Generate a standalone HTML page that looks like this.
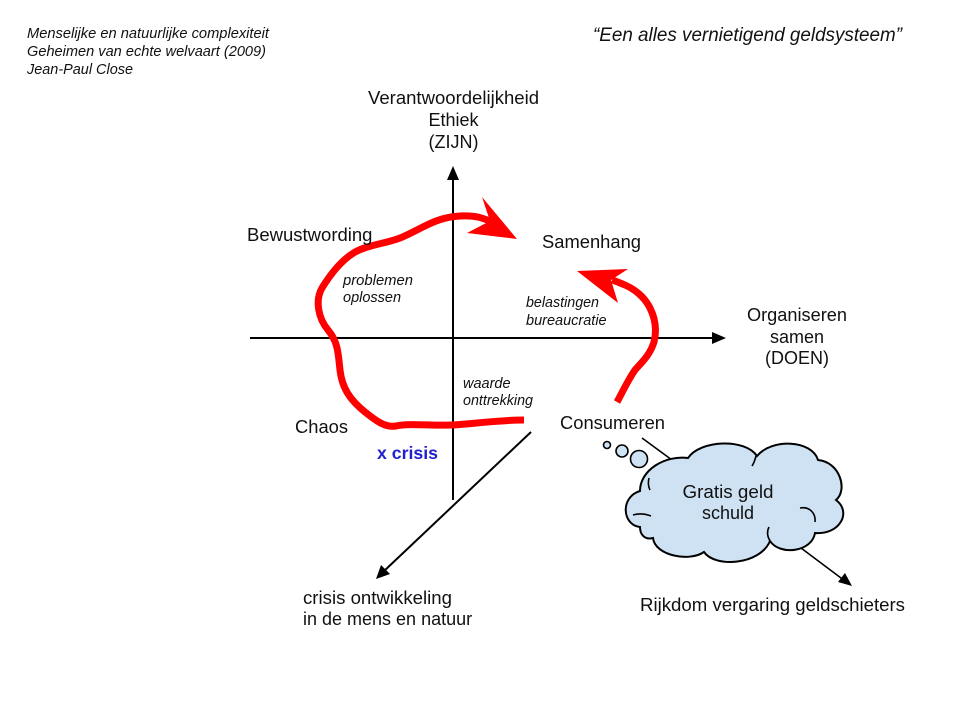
<!DOCTYPE html>
<html>
<head>
<meta charset="utf-8">
<style>
  html,body{margin:0;padding:0;background:#fff;}
  body{width:960px;height:720px;overflow:hidden;}
  svg{display:block;}
  text{font-family:"Liberation Sans",Arial,sans-serif;fill:#111;}
  .it{font-style:italic;}
</style>
</head>
<body>
<svg width="960" height="720" viewBox="0 0 960 720" xmlns="http://www.w3.org/2000/svg">
  <rect width="960" height="720" fill="#fff"/>

  <!-- header texts -->
  <text class="it" x="27" y="38" font-size="14.5" textLength="242" lengthAdjust="spacingAndGlyphs">Menselijke en natuurlijke complexiteit</text>
  <text class="it" x="27" y="56" font-size="14.5" textLength="239" lengthAdjust="spacingAndGlyphs">Geheimen van echte welvaart (2009)</text>
  <text class="it" x="27" y="74" font-size="14.5" textLength="106" lengthAdjust="spacingAndGlyphs">Jean-Paul Close</text>
  <text class="it" x="593" y="41" font-size="19" textLength="309" lengthAdjust="spacingAndGlyphs">“Een alles vernietigend geldsysteem”</text>

  <!-- axes -->
  <g stroke="#000" stroke-width="2" fill="none">
    <line x1="453" y1="500" x2="453" y2="176"/>
    <line x1="250" y1="338" x2="716" y2="338"/>
    <line x1="531" y1="432" x2="383" y2="572"/>
  </g>
  <polygon points="453,166 447,180 459,180" fill="#000"/>
  <polygon points="726,338 712,332 712,344" fill="#000"/>
  <polygon points="376,579 381,565 390,574" fill="#000"/>

  <!-- red loop -->
  <path d="M524,420 C500,420 470,424 453,425 C430,426 410,423 396,426 C385,428 375,420 365,412 C350,400 342,388 340,370 C338,352 338,342 328,330 C318,318 315,300 322,288 C330,275 340,262 352,254 C365,245 385,244 400,238 C420,230 435,217 460,216 C475,215 483,218 492,222"
        fill="none" stroke="#ff0000" stroke-width="7" stroke-linecap="butt" stroke-linejoin="round"/>
  <polygon points="482,197 517,239 467,233 490,221" fill="#ff0000"/>

  <path d="M617,402 C622,393 628,380 635,370 C642,362 650,355 654,342 C657,330 655,318 650,308 C645,298 636,290 625,285 C620,283 616,281 612,280"
        fill="none" stroke="#ff0000" stroke-width="7" stroke-linecap="butt" stroke-linejoin="round"/>
  <polygon points="577,271 628,269 611,280 618,303" fill="#ff0000"/>

  <!-- axis labels -->
  <text x="453.5" y="104" font-size="18" text-anchor="middle" textLength="171" lengthAdjust="spacingAndGlyphs">Verantwoordelijkheid</text>
  <text x="453.5" y="126" font-size="18" text-anchor="middle">Ethiek</text>
  <text x="453.5" y="148" font-size="18" text-anchor="middle">(ZIJN)</text>

  <text x="247" y="241" font-size="18.5">Bewustwording</text>
  <text x="542" y="248" font-size="18" textLength="99" lengthAdjust="spacingAndGlyphs">Samenhang</text>

  <text x="797" y="321" font-size="18" text-anchor="middle" textLength="100" lengthAdjust="spacingAndGlyphs">Organiseren</text>
  <text x="797" y="343" font-size="18" text-anchor="middle">samen</text>
  <text x="797" y="364" font-size="18" text-anchor="middle">(DOEN)</text>

  <text class="it" x="343" y="285" font-size="14.5" textLength="70" lengthAdjust="spacingAndGlyphs">problemen</text>
  <text class="it" x="343" y="302" font-size="14.5">oplossen</text>

  <text class="it" x="526" y="307" font-size="14.5" textLength="73" lengthAdjust="spacingAndGlyphs">belastingen</text>
  <text class="it" x="526" y="325" font-size="14.5">bureaucratie</text>

  <text class="it" x="463" y="388" font-size="14.5">waarde</text>
  <text class="it" x="463" y="405" font-size="14.5" textLength="70" lengthAdjust="spacingAndGlyphs">onttrekking</text>

  <text x="295" y="433" font-size="18" textLength="53" lengthAdjust="spacingAndGlyphs">Chaos</text>
  <text x="377" y="459" font-size="17.5" font-weight="bold" style="fill:#2020cc" textLength="61" lengthAdjust="spacingAndGlyphs">x crisis</text>
  <text x="560" y="429" font-size="18" textLength="105" lengthAdjust="spacingAndGlyphs">Consumeren</text>

  <text x="303" y="604" font-size="18" textLength="149" lengthAdjust="spacingAndGlyphs">crisis ontwikkeling</text>
  <text x="303" y="625" font-size="18">in de mens en natuur</text>

  <!-- connector from Consumeren to cloud -->
  <line x1="642" y1="438" x2="672" y2="460" stroke="#000" stroke-width="1.6"/>

  <!-- thought bubbles -->
  <g fill="#cfe2f3" stroke="#000" stroke-width="1.6">
    <circle cx="607" cy="445" r="3.5"/>
    <circle cx="622" cy="451" r="6"/>
    <circle cx="639" cy="459" r="8.5"/>
  </g>

  <!-- arrow from cloud -->
  <line x1="797" y1="545" x2="845" y2="581" stroke="#000" stroke-width="1.6"/>
  <polygon points="852,586 838,582 845,573" fill="#000"/>

  <!-- cloud -->
  <path d="M640,527 C622,525 620,497 640,491 C640,470 665,455 688,458 C700,440 745,438 757,456 C772,438 812,440 818,460 C840,462 848,490 836,500 C852,512 840,535 815,533 C812,552 780,556 770,541 C760,565 715,568 704,552 C690,562 655,556 653,538 C645,540 640,535 640,527 Z"
        fill="#cfe2f3" stroke="#000" stroke-width="2"/>
  <g fill="none" stroke="#000" stroke-width="1.6">
    <path d="M633,515 C640,513 646,514 651,516"/>
    <path d="M649,478 C648,482 648,486 650,490"/>
    <path d="M800,508 C810,506 816,514 815,522"/>
    <path d="M756,456 C755,460 754,463 752,466"/>
    <path d="M770,541 C767,536 767,531 769,527"/>
  </g>
  <text x="728" y="498" font-size="18" text-anchor="middle" textLength="91" lengthAdjust="spacingAndGlyphs">Gratis geld</text>
  <text x="728" y="519" font-size="18" text-anchor="middle">schuld</text>

  <text x="640" y="611" font-size="18" textLength="265" lengthAdjust="spacingAndGlyphs">Rijkdom vergaring geldschieters</text>
</svg>
</body>
</html>
